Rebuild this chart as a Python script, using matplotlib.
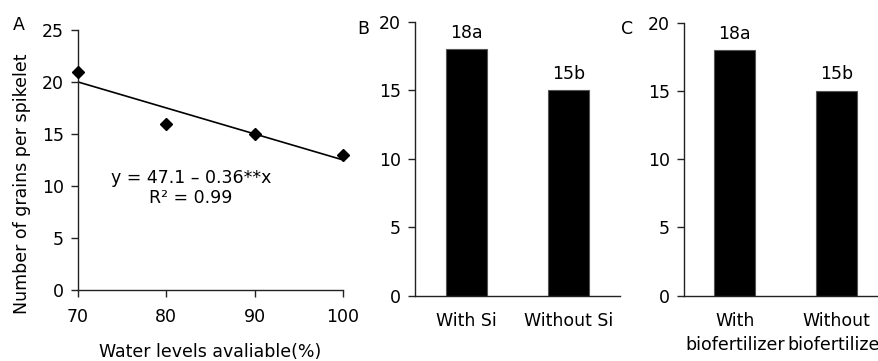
import numpy as np
import matplotlib

matplotlib.use("Agg")
import matplotlib.pyplot as plt

# Panel A: grains per spikelet vs. water level
water_levels = [70, 80, 90, 100]
grains_water = [21, 16, 15, 13]
equation_text = "y = 47.1 – 0.36**x\nR² = 0.99"

# Panel B: silicon
si_labels = ["With Si", "Without Si"]
si_values = [18, 15]
si_letters = ["18a", "15b"]

# Panel C: biofertilizer
bio_labels = ["With\nbiofertilizer", "Without\nbiofertilizer"]
bio_values = [18, 15]
bio_letters = ["18a", "15b"]

plt.rcParams["font.family"] = ["DejaVu Sans"]
FS = 12.5

fig = plt.figure(figsize=(8.79, 3.61), dpi=100)


def style_axes(ax):
    for side in ("top", "right"):
        ax.spines[side].set_visible(False)
    for side in ("left", "bottom"):
        ax.spines[side].set_linewidth(1.0)
        ax.spines[side].set_color("#222222")
    ax.tick_params(labelsize=FS, width=1.0, length=5, color="#222222")
    ax.tick_params(axis="y", pad=5)


# --- A ---
ax_a = fig.add_axes([0.0887, 0.197, 0.3015, 0.72])
ax_a.plot(water_levels, grains_water, linestyle="none", marker="D",
          markersize=6.5, color="black", clip_on=False, zorder=3)
slope, intercept = np.polyfit(water_levels, grains_water, 1)
xfit = np.array([min(water_levels), max(water_levels)])
ax_a.plot(xfit, intercept + slope * xfit, color="black", linewidth=1.2)
ax_a.set_xlim(70, 100)
ax_a.set_ylim(0, 25)
ax_a.set_xticks(water_levels)
ax_a.set_yticks([0, 5, 10, 15, 20, 25])
style_axes(ax_a)
ax_a.tick_params(axis="x", pad=8)
ax_a.set_xlabel("Water levels avaliable(%)", fontsize=FS, labelpad=12)
ax_a.set_ylabel("Number of grains per spikelet", fontsize=FS)
# the label sits a bit below the middle of the axis in the original
ax_a.yaxis.set_label_coords(-0.177, 0.41)
ax_a.text(82.8, 9.8, equation_text, ha="center", va="center",
          fontsize=FS, linespacing=1.2)
fig.text(0.021, 0.93, "A", fontsize=FS, ha="center", va="center")


def bar_panel(rect, labels, values, letters, tag, tag_x):
    ax = fig.add_axes(rect)
    pos = np.arange(len(values))
    ax.bar(pos, values, width=0.4, color="black", edgecolor="#555555",
           linewidth=0.8)
    for p, v, t in zip(pos, values, letters):
        ax.text(p, v + 0.55, t, ha="center", va="bottom", fontsize=FS)
    ax.set_xlim(-0.5, 1.5)
    ax.set_ylim(0, 20)
    ax.set_yticks([0, 5, 10, 15, 20])
    ax.set_xticks(pos)
    ax.set_xticklabels(labels, linespacing=1.4)
    style_axes(ax)
    ax.tick_params(axis="x", length=0, pad=12)
    fig.text(tag_x, 0.92, tag, fontsize=FS, ha="center", va="center")
    return ax


bar_panel([0.472, 0.181, 0.233, 0.759], si_labels, si_values, si_letters,
          "B", 0.413)
bar_panel([0.778, 0.181, 0.232, 0.756], bio_labels, bio_values, bio_letters,
          "C", 0.713)

fig.savefig("out.png", dpi=100)
